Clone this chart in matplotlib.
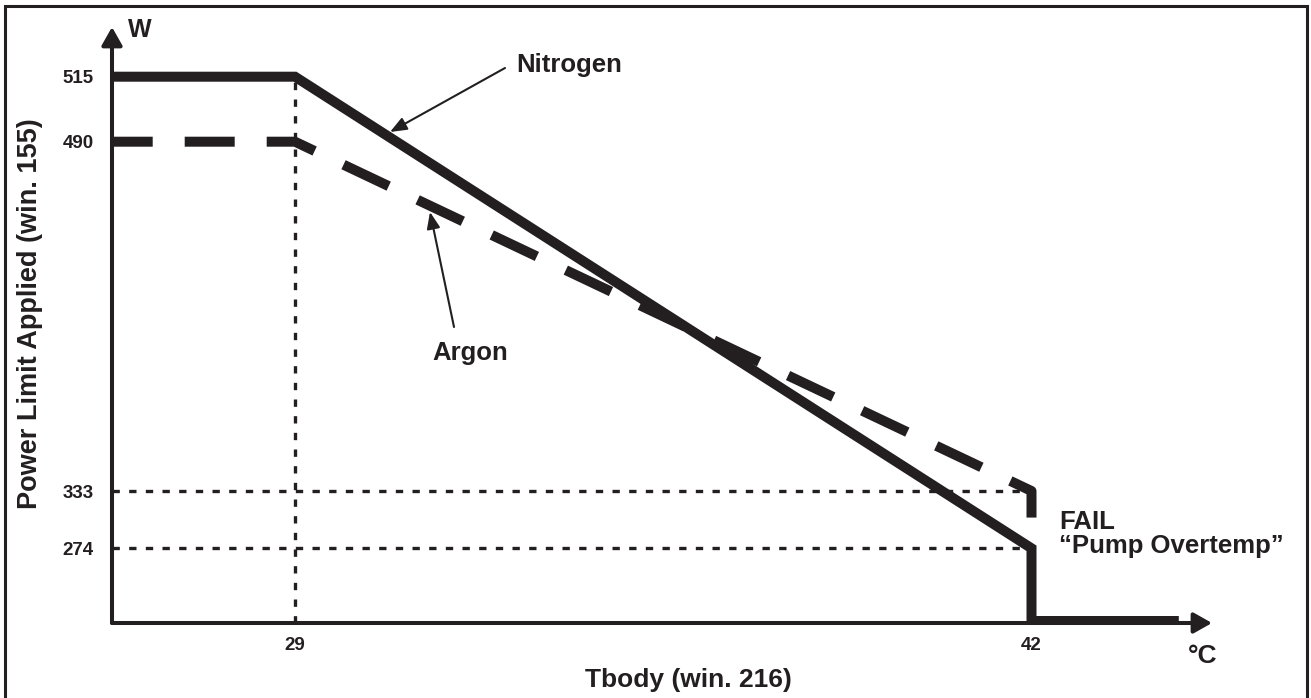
import numpy as np
import matplotlib
matplotlib.use("Agg")
import matplotlib.pyplot as plt
from matplotlib.patches import Rectangle

# ---------------- data ----------------
nitrogen_x = [25.8, 29, 42, 42, 44.6]
nitrogen_y = [515, 515, 274, 0, 0]
argon_x = [25.8, 29, 42, 42]
argon_y = [490, 490, 333, 302]
y_ticks = [274, 333, 490, 515]
y_tick_labels = ["274", "333", "490", "515"]
x_ticks = [29, 42]
x_tick_labels = ["29", "42"]
ref_x = 29
ref_x_top = 515
ref_y = [333, 274]
ref_y_end = 42

# ---------------- style ----------------
W, H = 1311, 698
INK = "#231f20"
plt.rcParams["font.family"] = ["Liberation Sans", "DejaVu Sans"]
plt.rcParams["font.weight"] = "bold"

def P(x, y):
    """pixel (from top-left) -> figure fraction"""
    return (x / W, 1 - y / H)

# schematic (piecewise) y-axis: value -> pixel row
_vals = np.array([-1000.0, 0.0, 274.0, 333.0, 490.0, 515.0, 2000.0])
_rows = np.array([886.3, 621.0, 548.3, 491.0, 141.7, 76.7, -3784.0])

def _fwd(v):
    return -np.interp(v, _vals, _rows)

def _inv(u):
    return np.interp(u, -_rows, _vals)

fig = plt.figure(figsize=(W / 100, H / 100), dpi=100)
left, right = 112 / W, 1212 / W
bottom, top = 1 - 623 / H, 1 - 27 / H
ax = fig.add_axes([left, bottom, right - left, top - bottom])
ax.set_yscale("function", functions=(_fwd, _inv))
px_per_unit = (1031.5 - 295) / 13
ax.set_xlim(29 - (295 - 112) / px_per_unit, 42 + (1212 - 1031.5) / px_per_unit)
ax.set_ylim(_inv(-623), _inv(-27))
for s in ax.spines.values():
    s.set_visible(False)
ax.patch.set_alpha(0)

# reference dotted lines
dot = (0, (2.2, 2.8))
ax.vlines(ref_x, ax.get_ylim()[0], ref_x_top, colors=INK, lw=2.4, linestyles=[dot])
ax.hlines(ref_y, ax.get_xlim()[0], ref_y_end, colors=INK, lw=2.4, linestyles=[dot])

# series
ax.plot(argon_x, argon_y, color=INK, lw=7.2, linestyle=(1.1, (5.0, 3.2)),
        solid_joinstyle="miter", dash_capstyle="butt", zorder=3)
ax.plot(nitrogen_x, nitrogen_y, color=INK, lw=7.2, solid_joinstyle="miter",
        solid_capstyle="butt", zorder=4)

# axes with arrowheads
arrow_kw = dict(arrowstyle="-|>,head_length=1.1,head_width=0.62", lw=2.9,
                color=INK, shrinkA=0, shrinkB=0, mutation_scale=10)
ax.annotate("", xy=(0, 1), xytext=(0, 0), xycoords="axes fraction",
            arrowprops=arrow_kw, annotation_clip=False)
ax.annotate("", xy=(1, 0), xytext=(0, 0), xycoords="axes fraction",
            arrowprops=arrow_kw, annotation_clip=False)

# ticks
ax.set_yticks(y_ticks)
ax.set_yticklabels(y_tick_labels)
ax.set_xticks(x_ticks)
ax.set_xticklabels(x_tick_labels)
ax.tick_params(length=0, labelsize=13.5, colors=INK)
ax.tick_params(axis="y", pad=13)
ax.tick_params(axis="x", pad=10)
ax.minorticks_off()

# axis titles
fig.text(*P(140, 37), "W", fontsize=18, ha="center", va="baseline", color=INK)
fig.text(*P(1203, 663), "°C", fontsize=19, ha="center", va="baseline", color=INK)
fig.text(*P(688, 687), "Tbody (win. 216)", fontsize=19, ha="center",
         va="baseline", color=INK)
fig.text(*P(37, 314), "Power Limit Applied (win. 155)", fontsize=19.5,
         rotation=90, rotation_mode="anchor", ha="center", va="baseline", color=INK)

# annotations
ann_kw = dict(arrowstyle="-|>,head_length=1.0,head_width=0.4", lw=1.5,
              color=INK, shrinkA=0, shrinkB=0, mutation_scale=10)
fig.text(*P(569, 72), "Nitrogen", fontsize=18.5, ha="center", va="baseline", color=INK)
ax.annotate("", xy=P(390, 132), xytext=P(505, 68), xycoords="figure fraction",
            textcoords="figure fraction", arrowprops=ann_kw, annotation_clip=False)
fig.text(*P(470, 360), "Argon", fontsize=18.5, ha="center", va="baseline", color=INK)
ax.annotate("", xy=P(430, 212), xytext=P(454, 327), xycoords="figure fraction",
            textcoords="figure fraction", arrowprops=ann_kw, annotation_clip=False)
fig.text(*P(1059, 529), "FAIL", fontsize=18.5, ha="left", va="baseline", color=INK)
fig.text(*P(1059, 553), "\u201cPump Overtemp\u201d", fontsize=18.5, ha="left",
         va="baseline", color=INK)

# border around figure
fig.patches.append(Rectangle(P(5, 720), (1307 - 5) / W, (720 - 6) / H,
                             transform=fig.transFigure, fill=False,
                             edgecolor=INK, lw=2.2))

fig.savefig("out.png", dpi=100)
